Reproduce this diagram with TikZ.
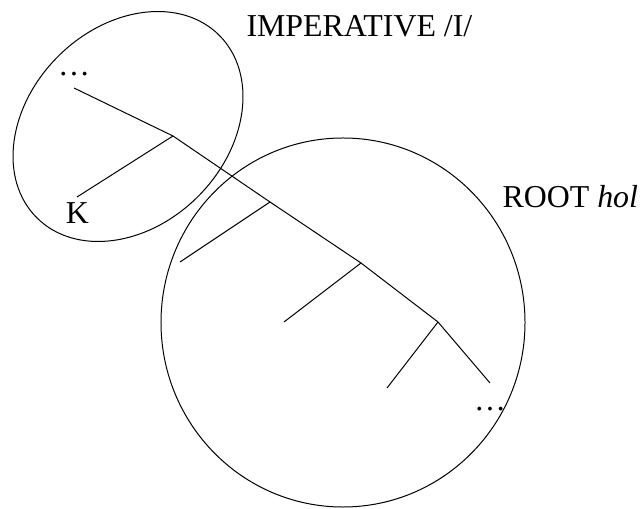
\documentclass[tikz,border=0pt]{standalone}
\usepackage{fontspec}
\setmainfont{Liberation Serif}
\usetikzlibrary{positioning}

\begin{document}
\begin{tikzpicture}[x=0.5bp,y=-0.5bp,line width=0.5pt]
    \tikzstyle{word}=[inner sep=0pt,font=\fontsize{16}{19}\selectfont]
    \useasboundingbox (0,0) rectangle (641,509);

    % labels
    \node[word, anchor=base west] (IMP) at (246,37) {IMPERATIVE /I/};
    \node[word, anchor=base west] (ROOT) at (502,208) {ROOT \textit{hol}};
    \node[word] (D1) at (74,74) {…};
    \node[word, anchor=base] (K) at (77.5,224) {K};
    \node[word] (D2) at (490,409) {…};

    % tree
    \coordinate (T0) at (74,88);
    \coordinate (T1) at (173,136);
    \coordinate (T2) at (270,202);
    \coordinate (T3) at (361,263);
    \coordinate (T4) at (438,322);
    \coordinate (T5) at (490,383);
    \coordinate (B1) at (77,197);
    \coordinate (B2) at (180,262);
    \coordinate (B3) at (284,322);
    \coordinate (B4) at (387,388);

    \path[draw]
    (T0) edge (T1)
    (T1) edge (T2)
    (T2) edge (T3)
    (T3) edge (T4)
    (T4) edge (T5)
    (T1) edge (B1)
    (T2) edge (B2)
    (T3) edge (B3)
    (T4) edge (B4)
   ;

    % domains
    \draw[rotate around={45:(128,126.5)}] (128,126.5) ellipse [x radius=64.5bp, y radius=49.5bp];
    \draw (343,322.5) ellipse [x radius=91bp, y radius=92.25bp];
\end{tikzpicture}
\end{document}
